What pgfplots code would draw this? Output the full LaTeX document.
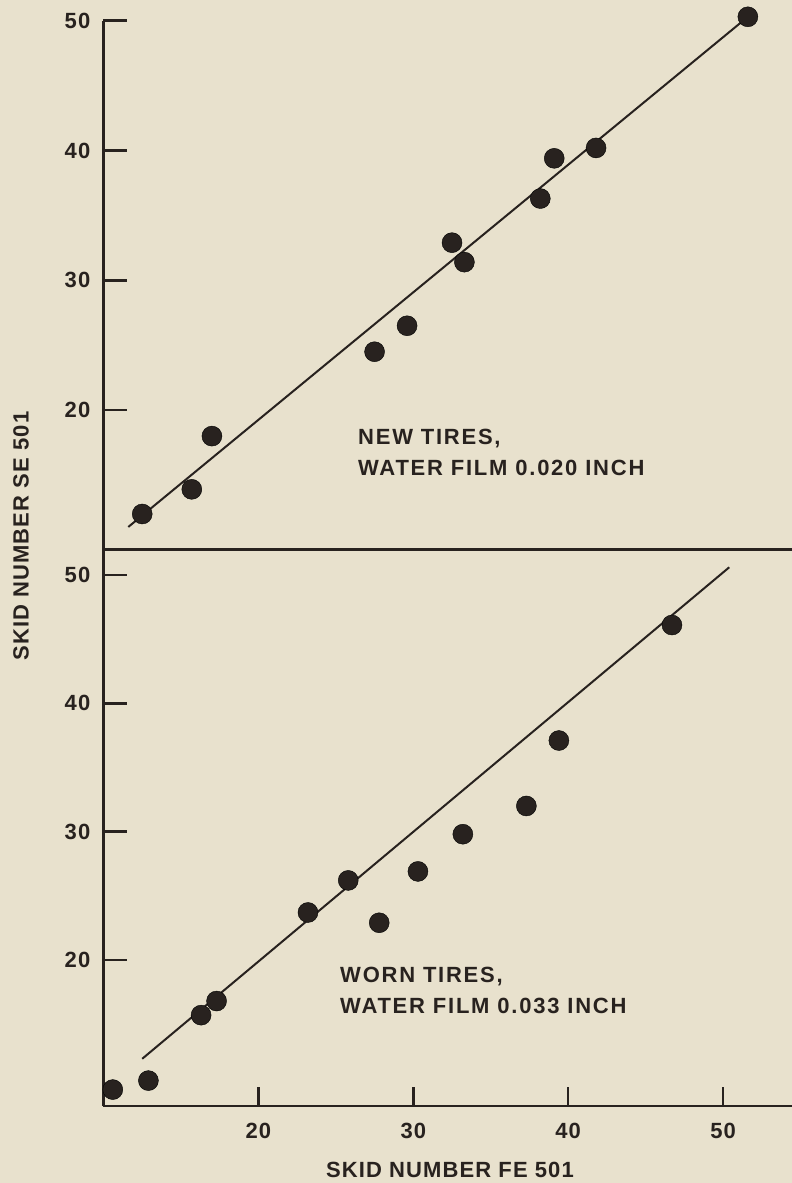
\documentclass[border=0pt]{standalone}
\usepackage{pgfplots}
\pgfplotsset{compat=1.18}
\usepackage{fontspec}
\setmainfont{Liberation Sans}[LetterSpace=5]
\newfontfamily\annfont{Liberation Sans}[LetterSpace=8]
\definecolor{bg}{RGB}{232,225,205}
\definecolor{ink}{RGB}{40,34,31}
\newcommand{\lf}{\bfseries\fontsize{22}{26}\selectfont}
\newcommand{\af}{\annfont\bfseries\fontsize{22}{26}\selectfont}
\pgfplotsset{
  mystyle/.style={
    scale only axis, width=688.5pt, xmin=10, xmax=54.45,
    axis lines=left, axis line style={-, line width=2.5pt, ink},
    tick align=inside, major tick length=23pt,
    every tick/.style={line width=2.5pt, ink},
    xtick style={/pgfplots/major tick length=19pt},
    ytick={20,30,40,50},
    clip=false, enlargelimits=false,
    tick label style={font=\lf, text=ink},
    /pgf/number format/assume math mode=true,
    yticklabel style={inner sep=0pt, xshift=-13pt},
    xticklabel style={inner sep=0pt, yshift=-16.7pt},
  },
  dots/.style={only marks, mark=*, mark size=10pt, mark options={draw=none, fill=ink}},
  fit/.style={no marks, line width=2pt, ink},
}
\begin{document}
\begin{tikzpicture}
\fill[bg] (-103.5pt,20.7pt) rectangle (688.5pt,-1162.3pt);
% top panel: new tires
\begin{axis}[mystyle, at={(0pt,0pt)}, anchor=north west, height=528.6pt,
  ymin=9.28, ymax=50, xtick=\empty]
\addplot[fit] coordinates {(11.6,11.0) (51.6,50.3)};
\addplot[dots] coordinates {
(12.5,12.0) (15.7,13.9) (17.0,18.0) (27.5,24.5) (29.6,26.5) (32.5,32.9)
(33.3,31.4) (38.2,36.3) (39.1,39.4) (41.8,40.2) (51.6,50.3)};
\node[anchor=base west, inner sep=0pt, font=\af, text=ink] at (axis cs:26.43,17.37) {NEW TIRES,};
\node[anchor=base west, inner sep=0pt, font=\af, text=ink] at (axis cs:26.43,15.0) {WATER FILM 0.020 INCH};
\end{axis}
% bottom panel: worn tires
\begin{axis}[mystyle, at={(0pt,-528.6pt)}, anchor=north west, height=556.7pt,
  ymin=8.62, ymax=52.0, xtick={20,30,40,50}]
\addplot[fit] coordinates {(12.5,12.3) (50.4,50.6)};
\addplot[dots] coordinates {
(10.6,9.9) (12.9,10.6) (16.3,15.7) (17.3,16.8) (23.2,23.7) (25.8,26.2)
(27.8,22.9) (30.3,26.9) (33.2,29.8) (37.3,32.0) (39.4,37.1) (46.7,46.1)};
\node[anchor=base west, inner sep=0pt, font=\af, text=ink] at (axis cs:25.27,18.28) {WORN TIRES,};
\node[anchor=base west, inner sep=0pt, font=\af, text=ink] at (axis cs:25.27,15.86) {WATER FILM 0.033 INCH};
\end{axis}
\node[rotate=90, inner sep=0pt, font=\lf, text=ink] at (-82.5pt,-515.3pt) {SKID NUMBER SE 501};
\node[inner sep=0pt, font=\lf, text=ink] at (346.5pt,-1149.3pt) {SKID NUMBER FE 501};
\pgfresetboundingbox
\useasboundingbox (-103.5pt,20.7pt) rectangle (688.5pt,-1162.3pt);
\end{tikzpicture}
\end{document}
